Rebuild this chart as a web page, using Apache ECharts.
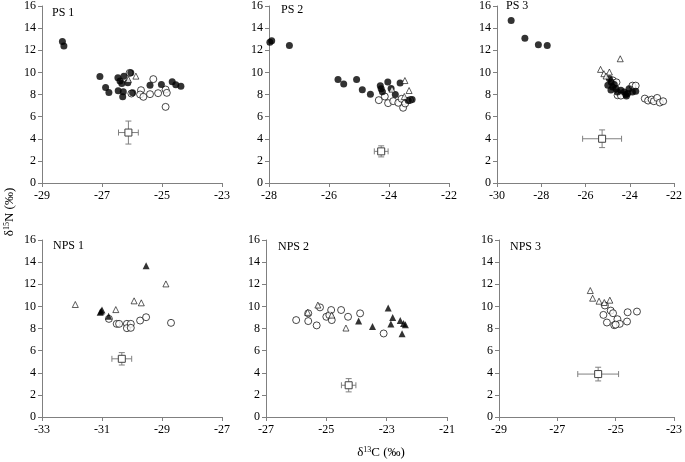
<!DOCTYPE html>
<html>
<head>
<meta charset="utf-8">
<script src="https://cdn.jsdelivr.net/npm/echarts@6/dist/echarts.min.js"></script>
<style>html,body{margin:0;padding:0;background:#fff}#c{width:685px;height:462px}</style>
</head>
<body>
<div id="c"></div>
<script>
// ---- DATA ----
const panelTitles = ['PS 1', 'PS 2', 'PS 3', 'NPS 1', 'NPS 2', 'NPS 3'];
const xMins = [-29, -28, -30, -33, -27, -29];
const xMaxs = [-23, -22, -22, -27, -21, -23];
const yTicks = [0, 2, 4, 6, 8, 10, 12, 14, 16];

const ps1Filled = [[-28.32,12.78],[-28.27,12.38],[-27.07,9.63],[-26.88,8.63],[-26.77,8.18],[-26.47,9.51],[-26.40,9.21],[-26.34,9.00],[-26.27,9.66],[-26.46,8.33],[-26.29,8.24],[-26.31,7.79],[-26.14,9.06],[-26.04,9.96],[-25.98,8.15],[-25.40,8.84],[-25.02,8.91],[-24.66,9.15],[-24.54,8.88],[-24.37,8.75]];
const ps1Open = [[-25.70,8.39],[-25.73,8.00],[-25.62,7.79],[-25.40,8.03],[-25.29,9.39],[-25.13,8.12],[-24.88,8.45],[-24.84,8.15],[-24.88,6.88],[-26.02,8.09],[-26.08,9.95]];
const ps1OpenTri = [[-26.12,9.36],[-25.87,9.66]];
const ps1Mean = [-26.12,4.56,0.33,1.04];

const ps2Filled = [[-27.97,12.72],[-27.91,12.87],[-27.32,12.42],[-25.70,9.35],[-25.51,8.96],[-25.08,9.35],[-24.89,8.42],[-24.62,8.03],[-24.29,8.78],[-24.26,8.51],[-24.22,8.24],[-24.04,9.14],[-23.93,8.54],[-23.79,8.00],[-23.63,9.05],[-23.36,7.46],[-23.23,7.55]];
const ps2Open = [[-24.34,7.49],[-24.14,7.82],[-24.03,7.22],[-23.86,7.40],[-23.69,7.25],[-23.58,7.61],[-23.53,6.80],[-23.46,7.19],[-23.30,7.50]];
const ps2OpenTri = [[-23.90,8.48],[-23.47,9.26],[-23.33,8.36],[-23.49,7.82]];
const ps2Mean = [-24.26,2.86,0.23,0.5];

const ps3Filled = [[-29.36,14.68],[-28.74,13.09],[-28.13,12.49],[-27.73,12.43],[-24.92,9.43],[-24.84,9.13],[-24.99,8.83],[-24.77,8.68],[-24.62,8.53],[-24.55,8.22],[-24.40,8.38],[-24.25,8.22],[-24.18,7.99],[-24.03,8.53],[-23.88,8.22],[-24.15,7.86],[-23.73,8.29],[-24.70,8.90],[-24.85,8.40],[-24.10,8.10]];
const ps3Open = [[-24.55,7.93],[-24.40,7.90],[-23.88,8.80],[-23.73,8.80],[-23.32,7.63],[-23.17,7.45],[-23.01,7.54],[-22.91,7.39],[-22.76,7.69],[-22.64,7.27],[-22.49,7.39],[-24.77,9.28],[-24.60,9.10]];
const ps3OpenTri = [[-24.43,11.23],[-25.32,10.27],[-25.17,9.88],[-24.92,10.03],[-25.07,9.67]];
const ps3Mean = [-25.25,4.0,0.88,0.8];

const nps1FilledTri = [[-29.53,13.68],[-31.00,9.68],[-31.06,9.47],[-30.78,9.11],[-31.03,9.55]];
const nps1OpenTri = [[-31.89,10.17],[-30.54,9.71],[-29.93,10.50],[-29.69,10.32],[-28.87,12.03]];
const nps1Open = [[-30.77,8.87],[-30.51,8.42],[-30.43,8.42],[-30.17,8.42],[-30.17,8.03],[-30.04,8.42],[-30.04,8.06],[-29.73,8.72],[-29.53,9.02],[-28.70,8.51]];
const nps1Mean = [-30.34,5.26,0.33,0.56];

const nps2Open = [[-26.00,8.76],[-25.60,8.67],[-25.60,9.37],[-25.32,8.28],[-25.21,9.91],[-25.00,9.06],[-24.90,9.21],[-24.84,9.67],[-24.82,8.76],[-24.51,9.67],[-24.28,9.06],[-23.88,9.37],[-23.10,7.55]];
const nps2OpenTri = [[-25.62,9.46],[-25.28,10.12],[-24.82,9.21],[-24.35,8.04]];
const nps2FilledTri = [[-23.93,8.67],[-23.47,8.19],[-22.95,9.85],[-22.80,9.00],[-22.86,8.40],[-22.55,8.73],[-22.44,8.46],[-22.38,8.34],[-22.49,7.52]];
const nps2Mean = [-24.26,2.87,0.24,0.6];

const nps3OpenTri = [[-25.87,11.43],[-25.79,10.74],[-25.57,10.47],[-25.39,10.35],[-25.20,10.56]];
const nps3Open = [[-25.37,10.08],[-25.17,9.62],[-25.09,9.38],[-25.42,9.23],[-25.30,8.54],[-25.05,8.30],[-24.94,8.84],[-24.86,8.42],[-24.59,9.47],[-24.61,8.63],[-24.27,9.53],[-25.00,8.35]];
const nps3Mean = [-25.60,3.88,0.7,0.62];

// ---- LAYOUT ----
const FONT = 'Liberation Serif';
const grids = [
  {left:42, top:6, width:180, height:177},
  {left:269, top:6, width:180, height:177},
  {left:497, top:6, width:180, height:177},
  {left:42, top:240, width:180, height:177},
  {left:266, top:240, width:181, height:177},
  {left:499, top:240, width:179, height:177}
];
const titlePos = [[52,7],[281,4],[506,0],[53,240],[278,241],[510,241]];
const AX = '#808080';

const xAxes = grids.map((g,i)=>({
  type:'value', gridIndex:i, min:xMins[i], max:xMaxs[i], interval:2,
  axisLine:{show:true, onZero:false, lineStyle:{color:AX, width:1}},
  axisTick:{show:true, length:4, lineStyle:{color:AX}},
  splitLine:{show:false},
  axisLabel:{color:'#000', fontFamily:FONT, fontSize:12, margin:7}
}));
const yAxes = grids.map((g,i)=>({
  type:'value', gridIndex:i, min:yTicks[0], max:yTicks[yTicks.length-1], interval:2,
  axisLine:{show:true, onZero:false, lineStyle:{color:AX, width:1}},
  axisTick:{show:true, length:4, lineStyle:{color:AX}},
  splitLine:{show:false},
  axisLabel:{color:'#000', fontFamily:FONT, fontSize:12, margin:6}
}));

function filledCircle(i, d){return {type:'scatter', xAxisIndex:i, yAxisIndex:i, data:d, symbol:'circle', symbolSize:7, itemStyle:{color:'#000'}, z:3};}
function openCircle(i, d){return {type:'scatter', xAxisIndex:i, yAxisIndex:i, data:d, symbol:'circle', symbolSize:7, itemStyle:{color:'#fff', borderColor:'#000', borderWidth:0.9}, z:2};}
function openTri(i, d){return {type:'scatter', xAxisIndex:i, yAxisIndex:i, data:d, symbol:'triangle', symbolSize:6, itemStyle:{color:'#fff', borderColor:'#000', borderWidth:0.8}, z:4};}
function filledTri(i, d){return {type:'scatter', xAxisIndex:i, yAxisIndex:i, data:d, symbol:'triangle', symbolSize:7, itemStyle:{color:'#000'}, z:4};}
function meanErr(i, d){
  return {type:'custom', xAxisIndex:i, yAxisIndex:i, data:[d], z:5,
    encode:{x:0, y:1},
    renderItem:function(params, api){
      const x=api.value(0), y=api.value(1), xe=api.value(2), ye=api.value(3);
      const c=api.coord([x,y]), l=api.coord([x-xe,y]), r=api.coord([x+xe,y]);
      const t=api.coord([x,y+ye]), b=api.coord([x,y-ye]);
      const cap=3, s=7;
      const ls={stroke:'#808080', lineWidth:1};
      return {type:'group', children:[
        {type:'line', shape:{x1:l[0],y1:l[1],x2:r[0],y2:r[1]}, style:ls},
        {type:'line', shape:{x1:t[0],y1:t[1],x2:b[0],y2:b[1]}, style:ls},
        {type:'line', shape:{x1:l[0],y1:l[1]-cap,x2:l[0],y2:l[1]+cap}, style:ls},
        {type:'line', shape:{x1:r[0],y1:r[1]-cap,x2:r[0],y2:r[1]+cap}, style:ls},
        {type:'line', shape:{x1:t[0]-cap,y1:t[1],x2:t[0]+cap,y2:t[1]}, style:ls},
        {type:'line', shape:{x1:b[0]-cap,y1:b[1],x2:b[0]+cap,y2:b[1]}, style:ls},
        {type:'rect', shape:{x:c[0]-s/2,y:c[1]-s/2,width:s,height:s}, style:{fill:'#fff', stroke:'#404040', lineWidth:1}}
      ]};
    }};
}

const series = [
  openCircle(0, ps1Open), filledCircle(0, ps1Filled), openTri(0, ps1OpenTri), meanErr(0, ps1Mean),
  openCircle(1, ps2Open), filledCircle(1, ps2Filled), openTri(1, ps2OpenTri), meanErr(1, ps2Mean),
  openCircle(2, ps3Open), filledCircle(2, ps3Filled), openTri(2, ps3OpenTri), meanErr(2, ps3Mean),
  openCircle(3, nps1Open), openTri(3, nps1OpenTri), filledTri(3, nps1FilledTri), meanErr(3, nps1Mean),
  openCircle(4, nps2Open), openTri(4, nps2OpenTri), filledTri(4, nps2FilledTri), meanErr(4, nps2Mean),
  openCircle(5, nps3Open), openTri(5, nps3OpenTri), meanErr(5, nps3Mean)
];

const titles = panelTitles.map((t,i)=>({text:t, left:titlePos[i][0], top:titlePos[i][1], padding:0,
  textStyle:{fontFamily:FONT, fontSize:12, fontWeight:'normal', color:'#000'}}));

const rich = {
  a:{fontFamily:FONT, fontSize:13, color:'#000'},
  s:{fontFamily:FONT, fontSize:8, color:'#000', padding:[0,0,6,0]}
};

const chart = echarts.init(document.getElementById('c'), null, {renderer:'canvas'});
chart.setOption({
  animation:false,
  backgroundColor:'#fff',
  title:titles,
  grid:grids,
  xAxis:xAxes,
  yAxis:yAxes,
  series:series,
  graphic:[
    {type:'text', x:10, y:212, rotation:Math.PI/2,
      style:{text:'{a|δ}{s|15}{a|N (‰)}', rich:rich, align:'center', verticalAlign:'middle'}},
    {type:'text', x:381, y:453,
      style:{text:'{a|δ}{s|13}{a|C (‰)}', rich:rich, align:'center', verticalAlign:'middle'}}
  ]
});
</script>
</body>
</html>
